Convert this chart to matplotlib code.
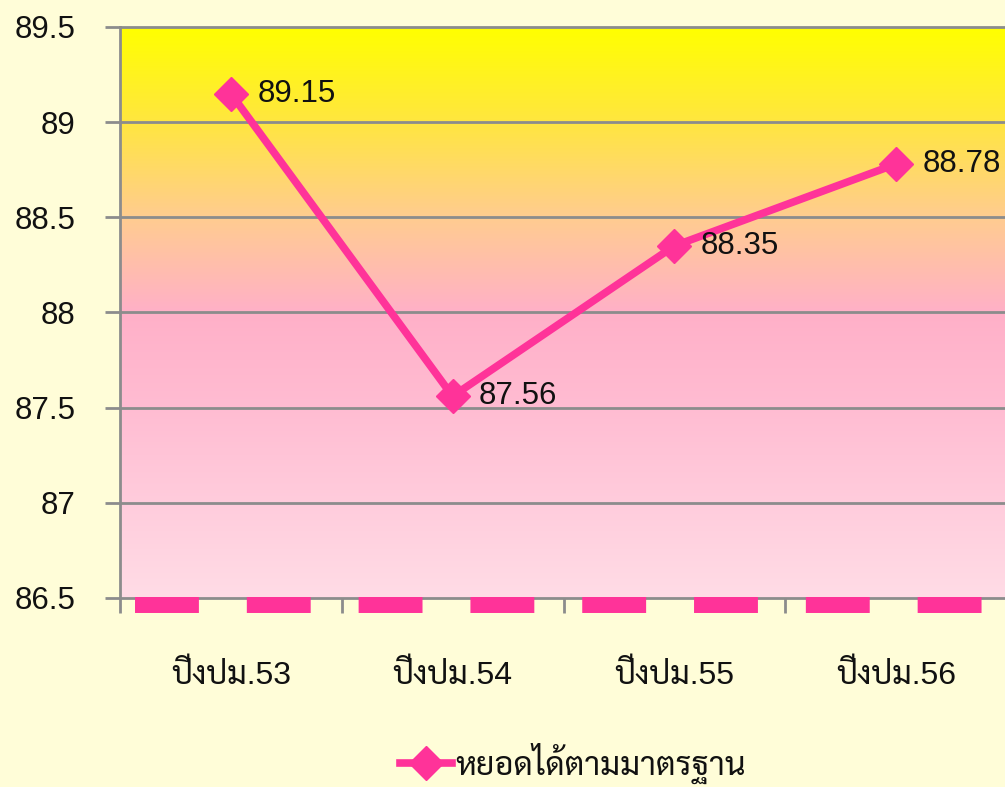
import numpy as np
import matplotlib
matplotlib.use("Agg")
import matplotlib.pyplot as plt
import matplotlib.transforms as mtransforms
from matplotlib.colors import LinearSegmentedColormap
from matplotlib import font_manager

# ข้อมูล
categories = ["ปีงปม.53", "ปีงปม.54", "ปีงปม.55", "ปีงปม.56"]
values = [89.15, 87.56, 88.35, 88.78]
series_name = "หยอดได้ตามมาตรฐาน"
yticks = [86.5, 87, 87.5, 88, 88.5, 89, 89.5]
ytick_labels = ["86.5", "87", "87.5", "88", "88.5", "89", "89.5"]

# หา font ที่มีภาษาไทย (ตัวเลขใช้ Liberation Sans)
names = {f.name for f in font_manager.fontManager.ttflist}
thai_font = "DejaVu Sans"
for cand in ["Sarabun", "K2D", "Niramit", "Krub", "Bai Jamjuree", "Prompt"]:
    if cand in names:
        thai_font = cand
        break
plt.rcParams["font.family"] = ["Liberation Sans", thai_font, "DejaVu Sans"]

bg = "#FFFDD8"
pink = "#FF3399"
grid_c = "#8C8C8C"
txt_c = "#111111"

fig = plt.figure(figsize=(10.05, 7.87), dpi=100, facecolor=bg)
ax = fig.add_axes([0.1194, 0.2402, 0.8826, 0.7255])
ax.set_facecolor("none")

x = np.arange(len(categories))
xlo, xhi = -0.5, len(categories) - 0.5

# พื้นหลังไล่สี (บนเหลือง ล่างชมพู)
grad = LinearSegmentedColormap.from_list("bg", [
    (0.0, "#FFFF00"),
    (0.166, "#FFE640"),
    (0.333, "#FFCC90"),
    (0.5, "#FFB0C8"),
    (0.666, "#FFBCD2"),
    (0.833, "#FFCCDC"),
    (1.0, "#FFDCE6"),
])
ax.imshow(np.linspace(0, 1, 256).reshape(-1, 1), cmap=grad, aspect="auto",
          origin="upper", extent=[xlo, xhi, 86.5, 89.5], zorder=0)
ax.set_xlim(xlo, xhi)
ax.set_ylim(86.5, 89.5)

# เส้นกริด
for yt in yticks:
    ax.axhline(yt, color=grid_c, lw=2, zorder=1, clip_on=False)

# แกน x เส้นประสีชมพู
off = mtransforms.offset_copy(ax.transData, fig=fig, x=0, y=-7, units="dots")
ax.plot([xlo, xhi], [86.5, 86.5], color=pink, lw=11.5,
        linestyle=(6.06, (4.0, 3.0)), dash_capstyle="butt",
        transform=off, clip_on=False, zorder=3)

# เส้นข้อมูล
ax.plot(x, values, color=pink, lw=5.5, marker="D", markersize=17,
        markeredgecolor=pink, markerfacecolor=pink, label=series_name,
        zorder=4, solid_joinstyle="round")

for xi, v in zip(x, values):
    ax.annotate(f"{v:.2f}", (xi, v), xytext=(19, 0), textcoords="offset points",
                ha="left", va="center", fontsize=22.5, color=txt_c, zorder=5,
                annotation_clip=False)

ax.set_yticks(yticks)
ax.set_yticklabels(ytick_labels)
ax.set_xticks(np.arange(xlo, len(categories), 1.0))
ax.set_xticklabels([])
ax.set_xticks(x, minor=True)
ax.set_xticklabels(categories, minor=True)
ax.tick_params(axis="x", which="minor", length=0, pad=45, labelsize=23,
               labelcolor=txt_c)
ax.tick_params(axis="x", which="major", length=11, width=2, color=grid_c)
ax.tick_params(axis="y", length=11, width=2, color=grid_c, pad=21,
               labelsize=22.5, labelcolor=txt_c)

for side in ["top", "right", "bottom"]:
    ax.spines[side].set_visible(False)
ax.spines["left"].set_color(grid_c)
ax.spines["left"].set_linewidth(2)

leg = fig.legend(loc="center", bbox_to_anchor=(0.57, 0.03), frameon=False,
                 fontsize=23.5, handlelength=1.6, handletextpad=0.1)
for t in leg.get_texts():
    t.set_color(txt_c)

fig.savefig("out.png", dpi=100, facecolor=bg)
